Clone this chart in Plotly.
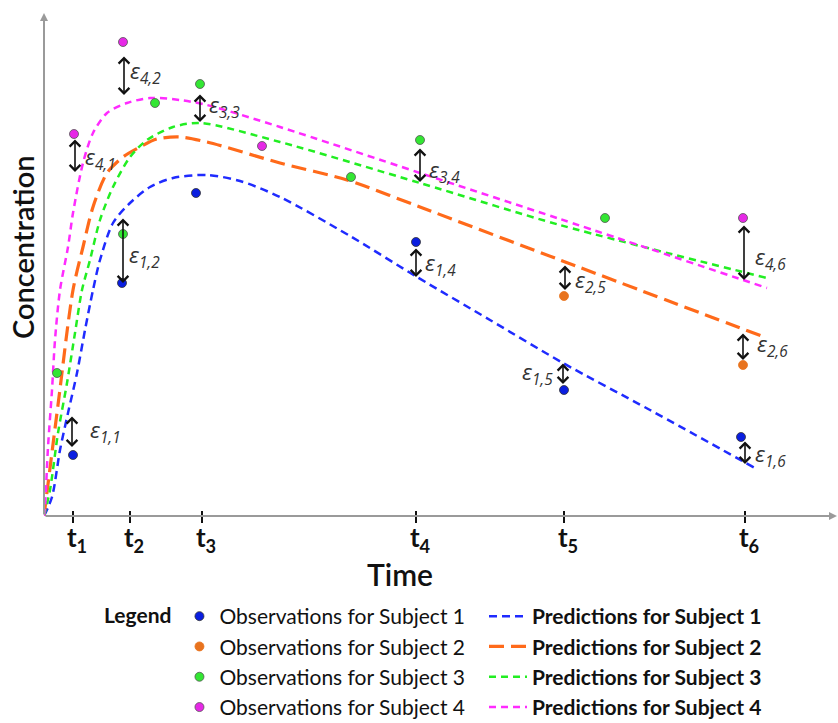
import plotly.graph_objects as go

# ---------------- data (arbitrary units: time, concentration) ----------------
T_TICKS = [2.9, 8.6, 15.8, 37.2, 52.0, 70.1]
T_LABELS = ["<b>t<sub>1</sub></b>", "<b>t<sub>2</sub></b>", "<b>t<sub>3</sub></b>",
            "<b>t<sub>4</sub></b>", "<b>t<sub>5</sub></b>", "<b>t<sub>6</sub></b>"]

SUBJECTS = ["Subject 1", "Subject 2", "Subject 3", "Subject 4"]

# observations
obs1_t = [2.9, 7.8, 15.2, 37.2, 52.0, 69.7]
obs1_c = [6.1, 23.3, 32.3, 27.4, 12.6, 7.9]
obs2_t = [52.0, 69.9]
obs2_c = [22.0, 15.1]
obs3_t = [1.3, 7.9, 11.1, 15.6, 30.7, 37.6, 56.1]
obs3_c = [14.3, 28.2, 41.3, 43.2, 33.9, 37.6, 29.8]
obs4_t = [3.0, 7.9, 21.8, 69.9]
obs4_c = [38.2, 47.4, 37.0, 29.8]

# model predictions
pred1_t = [0, 0.8, 1.6, 2.4, 3.3, 4.1, 4.9, 5.6, 6.9, 8.6, 10.6, 12.9, 16.3, 19.6, 23.6, 30.6, 37.3, 44.6, 51.9, 60.6, 71.1]
pred1_c = [0, 1.9, 6.6, 10.3, 14.3, 18.6, 22.6, 25.6, 29.3, 31.3, 32.9, 33.8, 34.1, 33.5, 31.9, 28.0, 23.9, 19.6, 15.3, 10.6, 4.8]
pred2_t = [0, 1.4, 2.9, 3.9, 4.9, 6.3, 7.9, 9.6, 11.3, 13.6, 16.3, 23.6, 30.3, 37.6, 51.6, 72.3]
pred2_c = [0, 11.1, 22.6, 26.9, 30.9, 34.3, 35.9, 36.9, 37.7, 37.9, 37.4, 35.3, 33.6, 30.9, 25.6, 17.8]
pred3_t = [0, 0.6, 1.4, 2.3, 3.1, 3.8, 4.6, 5.6, 6.9, 8.6, 10.3, 12.9, 15.6, 23.6, 37.6, 51.6, 72.3]
pred3_c = [0, 2.6, 8.3, 13.3, 18.3, 22.6, 25.6, 29.6, 32.9, 35.9, 37.6, 38.9, 39.3, 37.4, 33.3, 29.1, 23.8]
pred4_t = [0, 0.1, 0.4, 0.8, 1.1, 1.6, 2.4, 2.9, 3.9, 4.9, 6.3, 8.3, 10.6, 13.6, 16.3, 23.6, 37.6, 51.6, 72.3]
pred4_c = [0, 0.9, 6.9, 12.6, 17.6, 22.6, 26.9, 30.3, 35.3, 38.3, 40.3, 41.3, 41.8, 41.6, 41.1, 38.9, 34.3, 29.7, 22.8]

# residuals epsilon_{i,j}: subject i, time j, drawn between prediction and observation
res_subj = [1, 1, 4, 4, 3, 3, 1, 2, 1, 4, 2, 1]
res_time = [1, 2, 1, 2, 3, 4, 4, 5, 5, 6, 6, 6]
res_t = [2.8, 7.9, 3.1, 8.0, 15.6, 37.6, 37.2, 52.1, 51.9, 70.0, 69.9, 70.1]
res_from = [10.1, 29.9, 37.8, 46.1, 42.3, 36.9, 26.9, 25.2, 15.4, 29.2, 18.4, 7.6]
res_to = [6.9, 23.3, 34.4, 42.1, 39.4, 33.4, 23.9, 22.6, 13.2, 23.6, 15.6, 5.2]

# ---------------- styles ----------------
OBS_COLORS = ["#0a1ee0", "#e8731e", "#33e633", "#e628e6"]
OBS_LINE = ["#333333", "#e8731e", "#555555", "#555555"]
PRED_COLORS = ["#1f2bff", "#ff6a1a", "#22ee22", "#ff2bff"]
PRED_DASH = ["8px,5px", "15px,7px", "7px,5px", "7px,5px"]
PRED_WIDTH = [2.5, 3.2, 2.5, 2.5]
LABEL_XSHIFT = [16, 4, 8, 4, 7, 7, 7, 8, -8, 9, 12, 8]
LABEL_YSHIFT = [0, -6, -3, 3, 2, -6, -2, -4, 0, -6, 1, -3]

W, H = 838, 723
L, B = 44, 207
PW, PH = W - L, H - B   # plot area in px
X_MAX, Y_MAX = PW / 10, PH / 10


def px_x(px):
    return (px - L) / PW


def px_y(py):
    return (PH - py) / PH


obs_t = [obs1_t, obs2_t, obs3_t, obs4_t]
obs_c = [obs1_c, obs2_c, obs3_c, obs4_c]
pred_t = [pred1_t, pred2_t, pred3_t, pred4_t]
pred_c = [pred1_c, pred2_c, pred3_c, pred4_c]

fig = go.Figure()

for i in range(4):
    fig.add_trace(go.Scatter(
        x=pred_t[i], y=pred_c[i], mode="lines",
        line=dict(color=PRED_COLORS[i], dash=PRED_DASH[i], width=PRED_WIDTH[i],
                  shape="spline", smoothing=0.8),
        name="<b>Predictions for " + SUBJECTS[i] + "</b>",
        legend="legend2", legendgroup="p%d" % i, legendrank=i + 1,
        hoverinfo="skip"))

for i in range(4):
    fig.add_trace(go.Scatter(
        x=obs_t[i], y=obs_c[i], mode="markers",
        marker=dict(color=OBS_COLORS[i], size=9,
                    line=dict(color=OBS_LINE[i], width=0.8)),
        name="Observations for " + SUBJECTS[i],
        legend="legend", legendgroup="o%d" % i, legendrank=i + 1,
        hoverinfo="skip"))

annotations = []
# axis lines with arrowheads
annotations.append(dict(x=0, y=Y_MAX - 1.3, ax=0, ay=0, xref="x", yref="y", axref="x", ayref="y",
                        text="", showarrow=True, arrowhead=2, arrowsize=0.8, arrowwidth=2,
                        arrowcolor="#9a9a9a", standoff=0, startstandoff=0))
annotations.append(dict(x=X_MAX - 0.1, y=0, ax=0, ay=0, xref="x", yref="y", axref="x", ayref="y",
                        text="", showarrow=True, arrowhead=2, arrowsize=0.8, arrowwidth=2,
                        arrowcolor="#9a9a9a", standoff=0, startstandoff=0))

# residual arrows and labels
for k in range(len(res_t)):
    annotations.append(dict(x=res_t[k], y=res_to[k], ax=res_t[k], ay=res_from[k],
                            xref="x", yref="y", axref="x", ayref="y", text="",
                            showarrow=True, arrowhead=4, startarrowhead=4, arrowside="end+start",
                            arrowsize=1.3, startarrowsize=1.3, arrowwidth=1.6, arrowcolor="#111111",
                            standoff=0, startstandoff=0))
    left = LABEL_XSHIFT[k] > 0
    annotations.append(dict(x=res_t[k], y=(res_from[k] + res_to[k]) / 2, xref="x", yref="y",
                            text="<i>ε<sub>%d,%d</sub></i>" % (res_subj[k], res_time[k]),
                            showarrow=False, xanchor="left" if left else "right", yanchor="middle",
                            xshift=LABEL_XSHIFT[k], yshift=LABEL_YSHIFT[k],
                            font=dict(family="Open Sans", size=22, color="#333333")))

# axis titles
annotations.append(dict(x=px_x(400), y=px_y(574), xref="paper", yref="paper", text="Time",
                        showarrow=False, xanchor="center", yanchor="middle",
                        font=dict(family="Lato", size=30, color="#111111", weight=600)))
annotations.append(dict(x=px_x(23), y=px_y(248), xref="paper", yref="paper", text="Concentration",
                        showarrow=False, xanchor="center", yanchor="middle", textangle=-90,
                        font=dict(family="Lato", size=29, color="#111111", weight=600)))

fig.update_layout(
    width=W, height=H,
    margin=dict(l=L, r=0, t=0, b=B, autoexpand=False),
    paper_bgcolor="white", plot_bgcolor="white",
    xaxis=dict(range=[0, X_MAX], showgrid=False, zeroline=False, showline=False,
               tickvals=T_TICKS, ticktext=T_LABELS, ticks="outside", ticklen=12,
               tickwidth=1.5, tickcolor="#111111", anchor="free", position=6 / PH,
               ticklabelshift=4, ticklabelstandoff=-7,
               tickfont=dict(family="Lato", size=26, color="#111111")),
    yaxis=dict(range=[0, Y_MAX], visible=False),
    annotations=annotations,
    legend=dict(x=px_x(102), y=px_y(596), xanchor="left", yanchor="top",
                orientation="v", tracegroupgap=0,
                title=dict(text="<b>Legend</b>", side="left",
                           font=dict(family="Lato", size=21, color="#111111")),
                font=dict(family="Lato", size=21, color="#111111"),
                bgcolor="rgba(0,0,0,0)"),
    legend2=dict(x=px_x(484), y=px_y(596), xanchor="left", yanchor="top",
                 orientation="v", tracegroupgap=0, itemwidth=38,
                 font=dict(family="Lato", size=21, color="#111111"),
                 bgcolor="rgba(0,0,0,0)"),
    showlegend=True,
    hovermode=False,
)

fig.write_html("out.html", config={"displayModeBar": False})
